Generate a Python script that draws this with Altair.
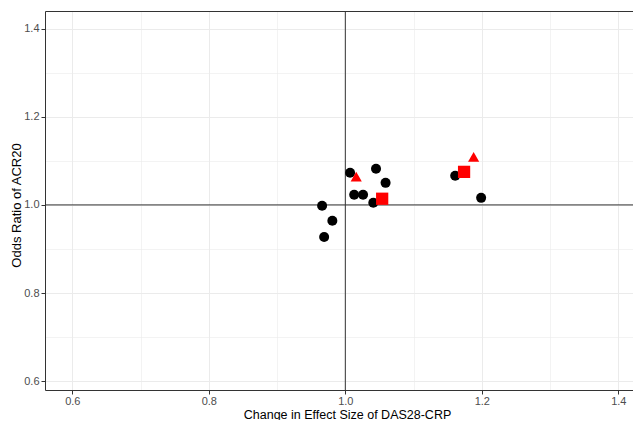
import altair as alt
import pandas as pd

# Data
circle_x = [0.966, 0.969, 0.981, 1.007, 1.013, 1.026, 1.045, 1.041, 1.059, 1.161, 1.199]
circle_y = [0.998, 0.927, 0.964, 1.073, 1.023, 1.023, 1.082, 1.005, 1.050, 1.066, 1.016]
triangle_x = [1.016, 1.188]
triangle_y = [1.064, 1.109]
square_x = [1.054, 1.174]
square_y = [1.014, 1.075]

tick_values = [0.6, 0.7, 0.8, 0.9, 1.0, 1.1, 1.2, 1.3, 1.4]
ref_x = [1.0]
ref_y = [1.0]

x_domain = [0.56, 1.4215]
y_domain = [0.58, 1.44]

rows = []
for x, y in zip(circle_x, circle_y):
    rows.append({"x": x, "y": y, "grp": "circle"})
for x, y in zip(triangle_x, triangle_y):
    rows.append({"x": x, "y": y, "grp": "triangle"})
for x, y in zip(square_x, square_y):
    rows.append({"x": x, "y": y, "grp": "square"})
df = pd.DataFrame(rows)

major_test = "round(datum.value*10) % 2 == 0"
label_expr = "round(datum.value*10) % 2 == 0 ? format(datum.value, '.1f') : ''"

x_axis = alt.Axis(
    values=tick_values,
    labelExpr=label_expr,
    grid=True,
    title="Change in Effect Size of DAS28-CRP",
    titleX=302,
    titleY=28,
    titleAlign="center",
    titleBaseline="alphabetic",
    titleFontSize=12.5,
    tickOpacity={"condition": {"test": major_test, "value": 1}, "value": 0},
    gridWidth={"condition": {"test": major_test, "value": 1}, "value": 0.6},
    labelPadding=1,
)
y_axis = alt.Axis(
    values=tick_values,
    labelExpr=label_expr,
    grid=True,
    title="Odds Ratio of ACR20",
    titleX=-25,
    titleY=194,
    titleAngle=-90,
    titleAlign="center",
    titleBaseline="alphabetic",
    tickOpacity={"condition": {"test": major_test, "value": 1}, "value": 0},
    gridWidth={"condition": {"test": major_test, "value": 1}, "value": 0.6},
    labelPadding=2,
)
top_axis = alt.Axis(orient="top", labels=False, ticks=False, grid=False, domain=True, title=None)

xs = alt.Scale(domain=x_domain, nice=False, zero=False)
ys = alt.Scale(domain=y_domain, nice=False, zero=False)

vline = alt.Chart(pd.DataFrame({"x": ref_x})).mark_rule(color="#333333", strokeWidth=1).encode(
    x=alt.X("x:Q", scale=xs, axis=top_axis)
)
hline = alt.Chart(pd.DataFrame({"y": ref_y})).mark_rule(color="#333333", strokeWidth=1).encode(
    y=alt.Y("y:Q", scale=ys, axis=None)
)

points = alt.Chart(df).mark_point(filled=True, opacity=1).encode(
    x=alt.X("x:Q", scale=xs, axis=x_axis),
    y=alt.Y("y:Q", scale=ys, axis=y_axis),
    shape=alt.Shape("grp:N", scale=alt.Scale(domain=["circle", "triangle", "square"],
                                             range=["circle", "triangle-up", "square"]), legend=None),
    color=alt.Color("grp:N", scale=alt.Scale(domain=["circle", "triangle", "square"],
                                             range=["#000000", "#ff0000", "#ff0000"]), legend=None),
    size=alt.Size("grp:N", scale=alt.Scale(domain=["circle", "triangle", "square"],
                                           range=[100, 150, 105]), legend=None),
)

chart = alt.layer(vline, hline, points).resolve_axis(
    x="independent", y="independent"
).properties(
    width=588,
    height=379,
    autosize=alt.AutoSizeParams(type="none"),
    padding={"left": 37, "top": 3, "right": 0, "bottom": 30},
).configure_view(
    stroke=None
).configure_axis(
    domain=True,
    domainColor="#333333",
    domainWidth=1,
    gridColor="#ebebeb",
    tickColor="#333333",
    tickSize=4,
    tickWidth=1,
    labelFont="Liberation Sans",
    labelFontSize=11,
    labelColor="#4d4d4d",
    titleFont="Liberation Sans",
    titleFontSize=13,
    titleFontWeight="normal",
    titleColor="#000000",
)

chart.save("out.html", embed_options={"renderer": "svg", "actions": False})
